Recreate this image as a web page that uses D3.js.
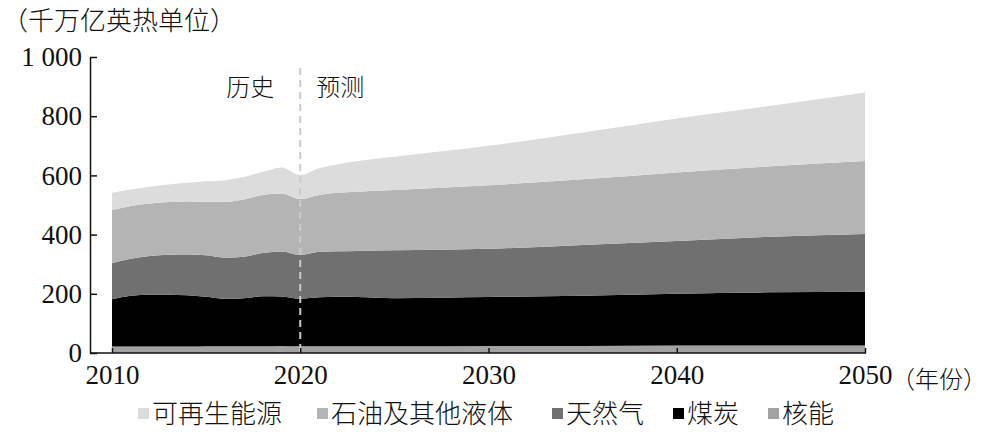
<!DOCTYPE html>
<html>
<head>
    <meta charset="utf-8">
    <script src="https://d3js.org/d3.v7.min.js"></script>
    <style>
        body {
            margin: 0;
            background: #fff;
        }
        text {
            fill: #111;
        }
        .cn {
            font-family: "Noto Sans CJK SC", sans-serif;
            font-weight: 300;
        }
        .num {
            font-family: "Liberation Serif", serif;
        }
    </style>
</head>
<body>
    <div id="chart"></div>
    <script>
        // data (quadrillion Btu)
        const years = [2010, 2011, 2012, 2013, 2014, 2015, 2016, 2017, 2018, 2019, 2020,
                       2021, 2022, 2023, 2025, 2030, 2035, 2040, 2045, 2050];
        const nuclear = [22, 22, 22, 22, 22, 23, 23, 23, 23, 24, 23, 23, 23, 23, 23, 24, 24, 25, 25, 25];
        const coal    = [160, 171, 175, 175, 173, 167, 160, 162, 169, 167, 160, 165, 167, 166, 162, 165, 169, 175, 180, 182];
        const gas     = [121, 125, 131, 135, 138, 140, 139, 140, 146, 152, 148, 154, 154, 156, 162, 163, 172, 178, 188, 195];
        const oil     = [180, 179, 177, 178, 179, 181, 189, 194, 196, 196, 189, 192, 197, 200, 204, 215, 222, 232, 238, 247];
        const renew   = [58, 55, 57, 59, 63, 69, 73, 76, 78, 88, 81, 90, 97, 103, 112, 133, 158, 182, 204, 231];

        const seriesKeys = ["nuclear", "coal", "gas", "oil", "renew"];
        const seriesNames = {
            renew: "可再生能源", oil: "石油及其他液体", gas: "天然气", coal: "煤炭", nuclear: "核能"
        };
        const legendOrder = ["renew", "oil", "gas", "coal", "nuclear"];
        const colors = {
            renew: "#dcdcdc", oil: "#b4b4b4", gas: "#707070", coal: "#000000", nuclear: "#a2a2a2"
        };
        const yTicks = [0, 200, 400, 600, 800, 1000];
        const xTicks = [2010, 2020, 2030, 2040, 2050];

        const width = 995, height = 437;
        const svg = d3.select("#chart").append("svg")
            .attr("width", width)
            .attr("height", height);

        const x = d3.scaleLinear().domain([2010, 2050]).range([112, 865]);
        const y = d3.scaleLinear().domain([0, 1000]).range([353, 57]);
        const axisLeftX = 90;

        const table = years.map((yr, i) => ({
            year: yr, nuclear: nuclear[i], coal: coal[i], gas: gas[i], oil: oil[i], renew: renew[i]
        }));
        const stacked = d3.stack().keys(seriesKeys)(table);

        const area = d3.area()
            .x(d => x(d.data.year))
            .y0(d => y(d[0]))
            .y1(d => y(d[1]))
            .curve(d3.curveMonotoneX);

        svg.selectAll(".layer")
            .data(stacked)
            .enter()
            .append("path")
            .attr("class", "layer")
            .attr("d", area)
            .attr("fill", d => colors[d.key]);

        // history / projection divider
        svg.append("line")
            .attr("x1", x(2020)).attr("x2", x(2020))
            .attr("y1", 68).attr("y2", y(0))
            .attr("stroke", "#cacaca")
            .attr("stroke-width", 2)
            .attr("stroke-dasharray", "7,5");

        svg.append("text").attr("class", "cn")
            .attr("x", x(2020) - 26).attr("y", 96)
            .attr("text-anchor", "end")
            .attr("font-size", 24)
            .text("历史");
        svg.append("text").attr("class", "cn")
            .attr("x", x(2020) + 16).attr("y", 96)
            .attr("font-size", 24)
            .text("预测");

        // y axis
        const yAxis = d3.axisLeft(y)
            .tickValues(yTicks)
            .tickSizeInner(-7)
            .tickSizeOuter(0)
            .tickPadding(8)
            .tickFormat(d => d === 1000 ? "1 000" : d);
        const gy = svg.append("g")
            .attr("transform", `translate(${axisLeftX},0)`)
            .call(yAxis)
            .attr("font-family", null)
            .attr("font-size", null);
        gy.select(".domain").attr("stroke", "#111").attr("stroke-width", 1.5);
        gy.selectAll(".tick line").attr("stroke", "#111").attr("stroke-width", 1.5);
        gy.selectAll("text")
            .attr("class", "num")
            .attr("font-size", 27)
            .attr("fill", "#111");

        // x axis
        const xAxis = d3.axisBottom(x)
            .tickValues(xTicks)
            .tickSizeInner(-5)
            .tickSizeOuter(0)
            .tickPadding(12)
            .tickFormat(d3.format("d"));
        const gx = svg.append("g")
            .attr("transform", `translate(0,${y(0)})`)
            .call(xAxis)
            .attr("font-family", null)
            .attr("font-size", null);
        gx.select(".domain").remove();
        gx.append("line")
            .attr("x1", axisLeftX).attr("x2", x(2050) + 1)
            .attr("stroke", "#111").attr("stroke-width", 1.5);
        gx.selectAll(".tick line").attr("stroke", "#111").attr("stroke-width", 1.5);
        gx.selectAll("text")
            .attr("class", "num")
            .attr("font-size", 27)
            .attr("fill", "#111");

        svg.append("text").attr("class", "cn")
            .attr("x", x(2050) + 26).attr("y", y(0) + 35)
            .attr("font-size", 24)
            .text("（年份）");

        svg.append("text").attr("class", "cn")
            .attr("x", 2).attr("y", 30)
            .attr("font-size", 26)
            .text("（千万亿英热单位）");

        // legend
        const legendX = [138, 317, 552, 673, 768];
        const legend = svg.selectAll(".legend")
            .data(legendOrder)
            .enter()
            .append("g")
            .attr("class", "legend")
            .attr("transform", (d, i) => `translate(${legendX[i]},414)`);
        legend.append("rect")
            .attr("x", 0).attr("y", -6)
            .attr("width", 11).attr("height", 11)
            .attr("fill", d => colors[d]);
        legend.append("text").attr("class", "cn")
            .attr("x", 14).attr("y", 9)
            .attr("font-size", 26)
            .text(d => seriesNames[d]);
    </script>
</body>
</html>
